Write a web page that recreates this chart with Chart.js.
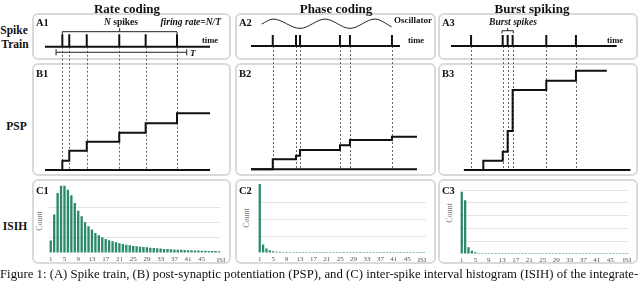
<!DOCTYPE html>
<html><head><meta charset="utf-8">
<script src="https://cdn.jsdelivr.net/npm/chart.js@4.4.1/dist/chart.umd.min.js"></script>
<style>
html,body{margin:0;padding:0;background:#fff;}
body{width:640px;height:281px;position:relative;overflow:hidden;font-family:"Liberation Serif","DejaVu Serif",serif;color:#111;}
.box{position:absolute;border:2px solid #dadada;border-radius:6px;box-sizing:border-box;background:#fff;}
.t{position:absolute;white-space:nowrap;line-height:1;}
canvas{position:absolute;}
</style></head><body>
<div class="box" style="left:32px;top:13px;width:199px;height:47px"></div>
<div class="box" style="left:235px;top:13px;width:201px;height:47px"></div>
<div class="box" style="left:438px;top:13px;width:200px;height:47px"></div>
<div class="box" style="left:32px;top:63px;width:199px;height:113px"></div>
<div class="box" style="left:235px;top:63px;width:201px;height:113px"></div>
<div class="box" style="left:438px;top:63px;width:200px;height:113px"></div>
<div class="box" style="left:32px;top:179px;width:199px;height:85px"></div>
<div class="box" style="left:235px;top:179px;width:201px;height:85px"></div>
<div class="box" style="left:438px;top:179px;width:200px;height:85px"></div>

<canvas id="col1" width="199" height="163" style="left:32px;top:13px"></canvas>
<canvas id="col2" width="201" height="163" style="left:235px;top:13px"></canvas>
<canvas id="col3" width="200" height="163" style="left:438px;top:13px"></canvas>
<canvas id="c1" width="174" height="80" style="left:47px;top:185px"></canvas>
<canvas id="c2" width="170" height="81" style="left:256px;top:184px"></canvas>
<canvas id="c3" width="171" height="76" style="left:458px;top:190px"></canvas>
<div id="labels"></div>
<div id="caption" class="t" style="left:0;top:268px;font-size:13px">Figure 1: (A) Spike train, (B) post-synaptic potentiation (PSP), and (C) inter-spike interval histogram (ISIH) of the integrate-</div>
<script>
// ---------------- DATA ----------------
// Rate coding (time in arbitrary units)
const rateSpikes    = [10.5, 14.7, 25.3, 45.0, 61.0, 80.0];
const rateStepTimes = [10.5, 14.7, 25.3, 45.0, 61.0, 80.0];
const ratePsp       = [0.99, 2.05, 3.01, 3.97, 4.97, 6.03];
const rateTimeLine  = [0, 100];
const ratePspLine   = [0, 100];
const ratePspEnd    = 100;
const ratePeriod    = [6.7, 85.9];   // T

// Phase coding
const phaseSpikes    = [14.6, 30.2, 32.9, 59.7, 66.4, 94.6];
const phaseStepTimes = [14.6, 30.2, 32.9, 59.7, 66.4, 94.6];
const phasePsp       = [1.06, 1.45, 2.05, 2.55, 3.12, 3.47];
const phaseTimeLine  = [0, 100];
const phasePspLine   = [0, 111.4];
const phasePspEnd    = 111.4;
const oscTimes  = [7.2, 14.8, 32.9, 49.7, 66.4, 83.2, 94.4];
const oscValues = [2.0, 2.45, 1.6, 2.45, 1.6, 2.45, 1.75];

// Burst spiking
const burstSpikes    = [12.1, 31.2, 34.2, 37.2, 57.5, 75.4];
const burstStepTimes = [19.5, 31.2, 34.2, 37.2, 57.5, 75.4];
const burstPsp       = [0.99, 1.95, 4.15, 8.51, 9.50, 10.56];
const burstTimeLine  = [0, 100];
const burstPspLine   = [7.8, 108.3];
const burstPspEnd    = 94.0;

// ISI histograms (count, arbitrary units)
const isiBins = [1,2,3,4,5,6,7,8,9,10,11,12,13,14,15,16,17,18,19,20,21,22,23,24,25,
                 26,27,28,29,30,31,32,33,34,35,36,37,38,39,40,41,42,43,44,45,46,47,48,49,50];
const isiTickLabels = ['1','5','9','13','17','21','25','29','33','37','41','45'];
const rateIsi = [0.82,2.54,3.97,4.45,4.45,4.19,3.82,3.31,2.80,2.43,2.03,1.77,1.55,1.32,1.17,1.04,0.93,0.84,0.77,0.71,
                 0.64,0.60,0.55,0.51,0.46,0.44,0.42,0.40,0.38,0.35,0.33,0.31,0.29,0.27,0.26,0.24,0.23,0.22,0.21,0.20,
                 0.19,0.18,0.17,0.16,0.15,0.15,0.14,0.13,0.13,0.12];
const phaseIsi = [4.1,0.50,0.26,0.16,0.10,0.08,0.07,0.06,0.06,0.06,0.06,0.06,0.06,0.06,0.06,0.06,0.06,0.06,0.06,0.06,
                  0.06,0.06,0.06,0.06,0.06,0.06,0.06,0.06,0.06,0.06,0.06,0.06,0.06,0.06,0.06,0.06,0.06,0.06,0.06,0.06,
                  0.06,0.06,0.06,0.06,0.06,0.06,0.06,0.06,0.06,0.06];
const burstIsi = [4.87,4.20,0.52,0.26,0.13,0.08,0.07,0.07,0.07,0.07,0.07,0.07,0.07,0.07,0.07,0.07,0.07,0.07,0.07,0.07,
                  0.07,0.07,0.07,0.07,0.07,0.07,0.07,0.07,0.07,0.07,0.07,0.07,0.07,0.07,0.07,0.07,0.07,0.07,0.07,0.07,
                  0.07,0.07,0.07,0.07,0.07,0.07,0.07,0.07,0.07,0.07];

// ---------------- CHARTS ----------------
const INK = '#111';
const SERIF = '"Liberation Serif", "DejaVu Serif", serif';

function seg(x0, x1, y) { return [{x:x0,y:y},{x:x1,y:y}]; }

function columnChart(id, s) {
  const L = s.layout;
  const scales = {
    x:  {type:'linear', display:false, min:(L.left-L.x0)/L.xu, max:(L.left+L.w-L.x0)/L.xu},
    ys: {type:'linear', display:false, min:-(L.top+L.h-L.sBase)/L.su, max:(L.sBase-L.top)/L.su},
    yp: {type:'linear', display:false, min:-(L.top+L.h-L.pBase)/L.pu, max:(L.pBase-L.top)/L.pu}
  };
  const spikePts = [];
  s.spikes.forEach(t => { spikePts.push({x:t,y:0},{x:t,y:1},{x:t,y:null}); });
  const stepPts = [{x:s.pspLine[0], y:0}];
  s.stepTimes.forEach((t,i) => stepPts.push({x:t, y:s.psp[i]}));
  stepPts.push({x:s.pspEnd, y:s.psp[s.psp.length-1]});
  const common = {pointRadius:0, borderColor:INK, clip:false, tension:0, borderCapStyle:'butt', borderJoinStyle:'miter'};
  const datasets = [
    {...common, data:seg(s.timeLine[0], s.timeLine[1], 0), yAxisID:'ys', borderWidth:2},
    {...common, data:spikePts, yAxisID:'ys', borderWidth:2, spanGaps:false},
    {...common, data:seg(s.pspLine[0], s.pspLine[1], 0), yAxisID:'yp', borderWidth:2},
    {...common, data:stepPts, yAxisID:'yp', borderWidth:2, stepped:true}
  ];
  if (s.osc) datasets.push({...common, data:s.osc.t.map((t,i)=>({x:t,y:s.osc.v[i]})), yAxisID:'ys',
                            borderWidth:1, borderColor:'#222', cubicInterpolationMode:'monotone'});
  const overlay = {
    id:'overlay'+id,
    beforeDatasetsDraw(chart) {
      const {ctx} = chart, x = chart.scales.x, ys = chart.scales.ys, yp = chart.scales.yp;
      ctx.save(); ctx.setLineDash([2,2]); ctx.lineWidth = 0.9; ctx.strokeStyle = '#555';
      s.spikes.forEach(t => {
        const px = Math.round(x.getPixelForValue(t)) + 0.5;
        ctx.beginPath(); ctx.moveTo(px, ys.getPixelForValue(0)); ctx.lineTo(px, yp.getPixelForValue(0)); ctx.stroke();
      });
      ctx.restore();
    },
    afterDatasetsDraw(chart) {
      const {ctx} = chart, x = chart.scales.x, ys = chart.scales.ys;
      ctx.save(); ctx.strokeStyle = '#222'; ctx.lineWidth = 1;
      (s.brackets||[]).forEach(b => {
        const x1 = x.getPixelForValue(b.from), x2 = x.getPixelForValue(b.to), y = ys.getPixelForValue(b.y);
        ctx.beginPath();
        ctx.moveTo(x1, ys.getPixelForValue(b.e0)); ctx.lineTo(x1, ys.getPixelForValue(b.e1));
        ctx.moveTo(x2, ys.getPixelForValue(b.e0)); ctx.lineTo(x2, ys.getPixelForValue(b.e1));
        ctx.moveTo(x1, y); ctx.lineTo(x2, y);
        if (b.mid !== undefined) { const xm = (x1+x2)/2; ctx.moveTo(xm, y); ctx.lineTo(xm, ys.getPixelForValue(b.mid)); }
        ctx.stroke();
      });
      ctx.restore();
    }
  };
  return new Chart(document.getElementById(id), {
    type:'line', data:{datasets},
    options:{responsive:false, animation:false, devicePixelRatio:1, layout:{padding:0},
      plugins:{legend:{display:false}, tooltip:{enabled:false}}, scales},
    plugins:[overlay]
  });
}

columnChart('col1', {
  layout:{left:32, w:199, top:13, h:163, x0:45, xu:1.65, sBase:46.7, su:12.4, pBase:170, pu:9.4},
  spikes:rateSpikes, stepTimes:rateStepTimes, psp:ratePsp, timeLine:rateTimeLine, pspLine:ratePspLine, pspEnd:ratePspEnd,
  brackets:[
    {from:rateSpikes[0], to:rateSpikes[rateSpikes.length-1], y:1.21, e0:1.21, e1:1.0, mid:1.5},
    {from:ratePeriod[0], to:ratePeriod[1], y:-0.45, e0:-0.2, e1:-0.7}
  ]
});
columnChart('col2', {
  layout:{left:235, w:201, top:13, h:163, x0:251, xu:1.49, sBase:46, su:11, pBase:169.3, pu:9.4},
  spikes:phaseSpikes, stepTimes:phaseStepTimes, psp:phasePsp, timeLine:phaseTimeLine, pspLine:phasePspLine, pspEnd:phasePspEnd,
  osc:{t:oscTimes, v:oscValues}
});
columnChart('col3', {
  layout:{left:438, w:200, top:13, h:163, x0:451, xu:1.657, sBase:46, su:11, pBase:170, pu:9.4},
  spikes:burstSpikes, stepTimes:burstStepTimes, psp:burstPsp, timeLine:burstTimeLine, pspLine:burstPspLine, pspEnd:burstPspEnd,
  brackets:[{from:30.8, to:37.6, y:1.39, e0:1.39, e1:1.15, mid:1.64}]
});

function isiChart(id, values, yMax) {
  return new Chart(document.getElementById(id), {
    type:'bar',
    data:{labels:isiBins, datasets:[{data:values, backgroundColor:'#2b8a68', borderWidth:0,
      barPercentage:0.68, categoryPercentage:1.0}]},
    options:{responsive:false, animation:false, devicePixelRatio:1, layout:{padding:0},
      plugins:{legend:{display:false}, tooltip:{enabled:false}},
      scales:{
        x:{grid:{display:false, drawTicks:false}, border:{display:false},
           afterFit(sc){ sc.height = 12; },
           ticks:{autoSkip:false, maxRotation:0, minRotation:0, padding:2, color:'#555',
             font:{family:SERIF, size:7},
             callback(v, i){ const l = String(isiBins[i]); return isiTickLabels.includes(l) ? l : ''; }}},
        y:{min:0, max:yMax, border:{display:false},
           afterFit(sc){ sc.width = 0; },
           ticks:{display:false, stepSize:1},
           grid:{drawTicks:false, lineWidth:1,
             color(c){ return (c.tick && Number.isInteger(c.tick.value) && c.tick.value > 0) ? '#e4e4e4' : 'rgba(0,0,0,0)'; }}}
      }}
  });
}
isiChart('c1', rateIsi, 4.5);
isiChart('c2', phaseIsi, 4.1);
isiChart('c3', burstIsi, 5);

// ---------------- TEXT ----------------
const labels = [
  ['Rate coding', 127, 8, 'font-weight:bold;font-size:13px', 'c'],
  ['Phase coding', 336, 8, 'font-weight:bold;font-size:13px', 'c'],
  ['Burst spiking', 532, 8, 'font-weight:bold;font-size:13px', 'c'],
  ['Spike', 14, 31, 'font-weight:bold;font-size:11.5px', 'c'],
  ['Train', 15, 45, 'font-weight:bold;font-size:11.5px', 'c'],
  ['PSP', 16.5, 127, 'font-weight:bold;font-size:11.5px', 'c'],
  ['ISIH', 15, 227, 'font-weight:bold;font-size:11.5px', 'c'],
  ['A1', 36, 23, 'font-weight:bold;font-size:10.5px', 'l'],
  ['A2', 239, 23, 'font-weight:bold;font-size:10.5px', 'l'],
  ['A3', 442, 23, 'font-weight:bold;font-size:10.5px', 'l'],
  ['B1', 36, 73.5, 'font-weight:bold;font-size:10.5px', 'l'],
  ['B2', 239, 73.5, 'font-weight:bold;font-size:10.5px', 'l'],
  ['B3', 442, 73.5, 'font-weight:bold;font-size:10.5px', 'l'],
  ['C1', 36, 191, 'font-weight:bold;font-size:10.5px', 'l'],
  ['C2', 239, 191, 'font-weight:bold;font-size:10.5px', 'l'],
  ['C3', 442, 191, 'font-weight:bold;font-size:10.5px', 'l'],
  ['<i>N</i> spikes', 121, 23, 'font-weight:bold;font-size:9.5px', 'c'],
  ['<i>firing rate=N/T</i>', 221, 23, 'font-weight:bold;font-size:9.5px', 'r'],
  ['time', 202, 40, 'font-weight:bold;font-size:8.5px', 'l'],
  ['<i>T</i>', 190, 52.5, 'font-weight:bold;font-size:9px', 'l'],
  ['Oscillator', 432, 19.5, 'font-weight:bold;font-size:9px', 'r'],
  ['time', 408, 40, 'font-weight:bold;font-size:8.5px', 'l'],
  ['<i>Burst spikes</i>', 513, 23, 'font-weight:bold;font-size:9.5px', 'c'],
  ['time', 607, 40, 'font-weight:bold;font-size:8.5px', 'l'],
  ['ISI', 221, 259.5, 'font-size:7px;color:#555', 'c'],
  ['ISI', 422, 259.5, 'font-size:7px;color:#555', 'c'],
  ['ISI', 627, 259.5, 'font-size:7px;color:#555', 'c'],
  ['Count', 40, 221, 'font-size:8px;color:#777', 'v'],
  ['Count', 247, 218, 'font-size:8px;color:#777', 'v'],
  ['Count', 450, 213, 'font-size:8px;color:#777', 'v']
];
const host = document.getElementById('labels');
labels.forEach(([html, x, y, style, a]) => {
  const d = document.createElement('div');
  d.className = 't'; d.innerHTML = html;
  const tx = a === 'c' || a === 'v' ? '-50%' : a === 'r' ? '-100%' : '0';
  d.style.cssText = `left:${x}px;top:${y}px;${style};transform:translate(${tx},-50%)${a==='v'?' rotate(-90deg)':''}`;
  host.appendChild(d);
});
// fit caption to page width
const cap = document.getElementById('caption');
const w = cap.getBoundingClientRect().width;
cap.style.fontSize = (13 * 639 / w) + 'px';
</script>
</body></html>
